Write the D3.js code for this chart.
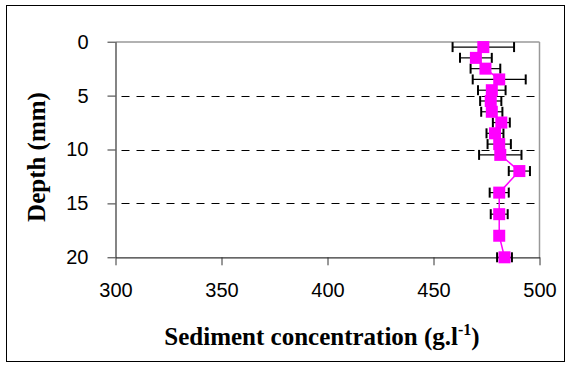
<!DOCTYPE html>
<html>
<head>
<meta charset="utf-8">
<script src="https://cdn.jsdelivr.net/npm/d3@7"></script>
<style>
  html, body { margin: 0; padding: 0; background: #fff; }
  svg { display: block; }
</style>
</head>
<body>
<script>
// Data
const depths = [0.5, 1.5, 2.5, 3.5, 4.5, 5.5, 6.5, 7.5, 8.5, 9.5, 10.5, 12, 14, 16, 18, 20];
const concentration = [473.5, 470, 474.5, 481, 477.5, 477, 477.5, 482, 479, 481, 481.5, 490.5, 481, 481, 481, 483.5];
const errors = [14.5, 7.5, 7, 12.5, 6.5, 5, 5, 4, 4, 5.5, 10, 5, 4.5, 4, 1.5, 3.5];
const xTicks = [300, 350, 400, 450, 500];
const yTicks = [0, 5, 10, 15, 20];
const gridTicks = [5, 10, 15];
const xTitle = "Sediment concentration (g.l";
const xTitleSup = "-1";
const yTitle = "Depth (mm)";

const W = 570, H = 365;
const svg = d3.select("body").append("svg").attr("width", W).attr("height", H);

// outer frame
svg.append("rect").attr("x", 6.5).attr("y", 5.5).attr("width", 558).attr("height", 356)
  .attr("fill", "none").attr("stroke", "#000").attr("stroke-width", 1);

const x = d3.scaleLinear().domain([300, 500]).range([115.5, 539.5]);
const y = d3.scaleLinear().domain([0, 20]).range([41.7, 257.3]);

// grid lines
svg.append("g").selectAll("line").data(gridTicks).join("line")
  .attr("x1", x(300)).attr("x2", x(500))
  .attr("y1", d => Math.round(y(d)) + 0.5).attr("y2", d => Math.round(y(d)) + 0.5)
  .attr("stroke", "#000").attr("stroke-width", 1)
  .attr("stroke-dasharray", "8,7").attr("stroke-dashoffset", 9);

// plot borders top & right (gray)
svg.append("line").attr("x1", x(300)).attr("x2", x(500)).attr("y1", 42).attr("y2", 42)
  .attr("stroke", "#999").attr("stroke-width", 1.5);
svg.append("line").attr("x1", 539.5).attr("x2", 539.5).attr("y1", 42).attr("y2", 257.5)
  .attr("stroke", "#999").attr("stroke-width", 1.5);

// axes
const yAxis = d3.axisLeft(y).tickValues(yTicks).tickSize(8).tickPadding(19).tickSizeOuter(0);
const gy = svg.append("g").attr("transform", `translate(${x(300)},0)`).call(yAxis);
gy.select(".domain").attr("stroke", "#333").attr("stroke-width", 1.2);
gy.selectAll(".tick line").attr("stroke", "#333");
gy.selectAll(".tick text").attr("font-family", "Liberation Sans, Arial, sans-serif")
  .attr("font-size", 20).attr("fill", "#000");

const xAxis = d3.axisBottom(x).tickValues(xTicks).tickSize(8).tickPadding(18).tickSizeOuter(0);
const gx = svg.append("g").attr("transform", `translate(0,${y(20)})`).call(xAxis);
gx.select(".domain").attr("stroke", "#333").attr("stroke-width", 1.2);
gx.selectAll(".tick line").attr("stroke", "#333");
gx.selectAll(".tick text").attr("font-family", "Liberation Sans, Arial, sans-serif")
  .attr("font-size", 20).attr("fill", "#000");

// data
const pts = depths.map((d, i) => ({ d, v: concentration[i], e: errors[i] }));

// line
svg.append("path").datum(pts)
  .attr("fill", "none").attr("stroke", "#FF00FF").attr("stroke-width", 1.5)
  .attr("d", d3.line().x(p => x(p.v)).y(p => y(p.d)));

// error bars
const eb = svg.append("g").attr("stroke", "#000");
eb.selectAll("line.h").data(pts).join("line").attr("class", "h")
  .attr("x1", p => x(p.v - p.e)).attr("x2", p => x(p.v + p.e))
  .attr("y1", p => y(p.d)).attr("y2", p => y(p.d)).attr("stroke-width", 1.2);
eb.selectAll("line.l").data(pts).join("line").attr("class", "l")
  .attr("x1", p => x(p.v - p.e)).attr("x2", p => x(p.v - p.e))
  .attr("y1", p => y(p.d) - 5).attr("y2", p => y(p.d) + 5).attr("stroke-width", 2);
eb.selectAll("line.r").data(pts).join("line").attr("class", "r")
  .attr("x1", p => x(p.v + p.e)).attr("x2", p => x(p.v + p.e))
  .attr("y1", p => y(p.d) - 5).attr("y2", p => y(p.d) + 5).attr("stroke-width", 2);

// markers
const ms = 12;
svg.append("g").selectAll("rect").data(pts).join("rect")
  .attr("x", p => x(p.v) - ms / 2).attr("y", p => y(p.d) - ms / 2)
  .attr("width", ms).attr("height", ms).attr("fill", "#FF00FF");

// titles
const xt = svg.append("text").attr("x", 322).attr("y", 345).attr("text-anchor", "middle")
  .attr("font-family", "Liberation Serif, Times New Roman, serif").attr("font-weight", "bold")
  .attr("font-size", 25).attr("fill", "#000");
xt.append("tspan").text(xTitle);
xt.append("tspan").attr("dy", -10).attr("font-size", 16).text(xTitleSup);
xt.append("tspan").attr("dy", 10).text(")");

svg.append("text").attr("transform", `translate(45,157) rotate(-90)`).attr("text-anchor", "middle")
  .attr("font-family", "Liberation Serif, Times New Roman, serif").attr("font-weight", "bold")
  .attr("font-size", 25).attr("fill", "#000").text(yTitle);
</script>
</body>
</html>
